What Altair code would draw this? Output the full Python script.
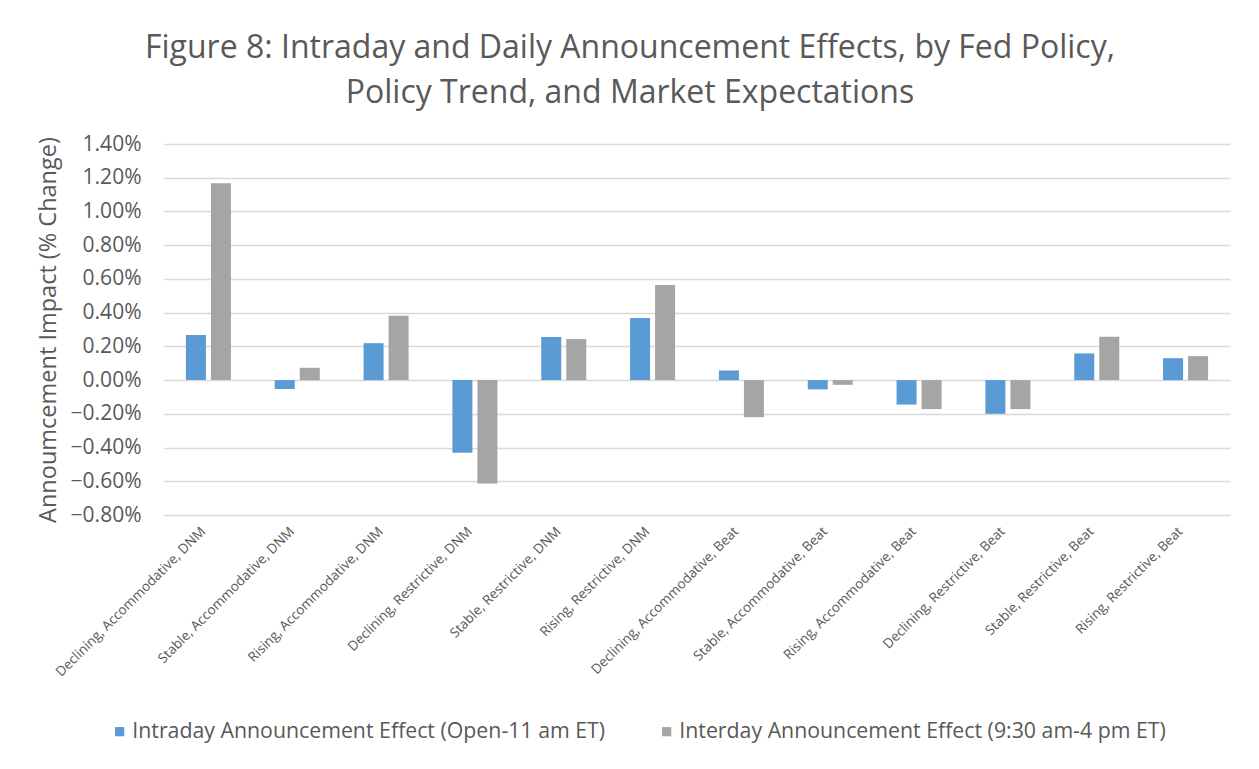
import altair as alt
import pandas as pd

categories = [
    "Declining, Accommodative, DNM",
    "Stable, Accommodative, DNM",
    "Rising, Accommodative, DNM",
    "Declining, Restrictive, DNM",
    "Stable, Restrictive, DNM",
    "Rising, Restrictive, DNM",
    "Declining, Accommodative, Beat",
    "Stable, Accommodative, Beat",
    "Rising, Accommodative, Beat",
    "Declining, Restrictive, Beat",
    "Stable, Restrictive, Beat",
    "Rising, Restrictive, Beat",
]
intraday = [0.00267, -0.00053, 0.00219, -0.00431, 0.00255, 0.00368,
            0.00057, -0.00055, -0.00145, -0.00200, 0.00158, 0.00130]
interday = [0.01167, 0.00073, 0.00381, -0.00613, 0.00243, 0.00564,
            -0.00220, -0.00028, -0.00172, -0.00172, 0.00257, 0.00142]
series_names = [
    "Intraday Announcement Effect (Open-11 am ET)",
    "Interday Announcement Effect (9:30 am-4 pm ET)",
]
series_colors = ["#5B9BD5", "#A5A5A5"]
y_ticks = [-0.008, -0.006, -0.004, -0.002, 0.0, 0.002, 0.004, 0.006,
           0.008, 0.010, 0.012, 0.014]
title_lines = [
    "Figure 8: Intraday and Daily Announcement Effects, by Fed Policy,",
    "Policy Trend, and Market Expectations",
]
y_title = "Annoumcement Impact (% Change)"

rows = []
for c, a, b in zip(categories, intraday, interday):
    rows.append({"category": c, "series": series_names[0], "value": a})
    rows.append({"category": c, "series": series_names[1], "value": b})
df = pd.DataFrame(rows)

FONT = "Open Sans"
TXT = "#595959"

chart = (
    alt.Chart(df)
    .mark_bar()
    .encode(
        x=alt.X(
            "category:N",
            sort=categories,
            scale=alt.Scale(paddingInner=0.493, paddingOuter=0.2465),
            axis=alt.Axis(
                title=None,
                labelAngle=-45,
                labelAlign="right",
                labelBaseline="middle",
                labelFont=FONT,
                labelFontSize=13.5,
                labelColor=TXT,
                labelPadding=14,
                labelOffset=-5,
                labelLimit=400,
                ticks=False,
                tickSize=0,
                domain=False,
                grid=False,
            ),
        ),
        xOffset=alt.XOffset(
            "series:N",
            sort=series_names,
            scale=alt.Scale(paddingInner=0.2, paddingOuter=0),
        ),
        y=alt.Y(
            "value:Q",
            scale=alt.Scale(domain=[-0.008, 0.014], nice=False, zero=False),
            axis=alt.Axis(
                title=y_title,
                titleFont=FONT,
                titleFontSize=23.5,
                titleFontWeight="normal",
                titleColor=TXT,
                titlePadding=10,
                values=y_ticks,
                format=".2%",
                labelFont=FONT,
                labelFontSize=21,
                labelColor=TXT,
                labelPadding=23,
                ticks=False,
                tickSize=0,
                domain=False,
                grid=True,
                gridColor="#D9D9D9",
                gridWidth=1.3,
            ),
        ),
        color=alt.Color(
            "series:N",
            sort=series_names,
            scale=alt.Scale(domain=series_names, range=series_colors),
            legend=alt.Legend(
                title=None,
                orient="none",
                direction="horizontal",
                legendX=-55,
                legendY=577,
                symbolType="square",
                symbolSize=85,
                symbolStrokeWidth=0,
                labelFont=FONT,
                labelFontSize=21.3,
                labelColor=TXT,
                labelLimit=700,
                labelOffset=2,
                columnPadding=50,
            ),
        ),
    )
    .properties(
        width=1066,
        height=371,
        autosize=alt.AutoSizeParams(type="none"),
        padding={"left": 156, "top": 136, "right": 20, "bottom": 240},
        title=alt.TitleParams(
            text=title_lines,
            font=FONT,
            fontSize=32,
            fontWeight="normal",
            color=TXT,
            anchor="middle",
            dx=-67,
            offset=23,
            lineHeight=45,
        ),
    )
    .configure_view(stroke=None)
)

chart.save("out.html", embed_options={"renderer": "svg", "actions": False})
